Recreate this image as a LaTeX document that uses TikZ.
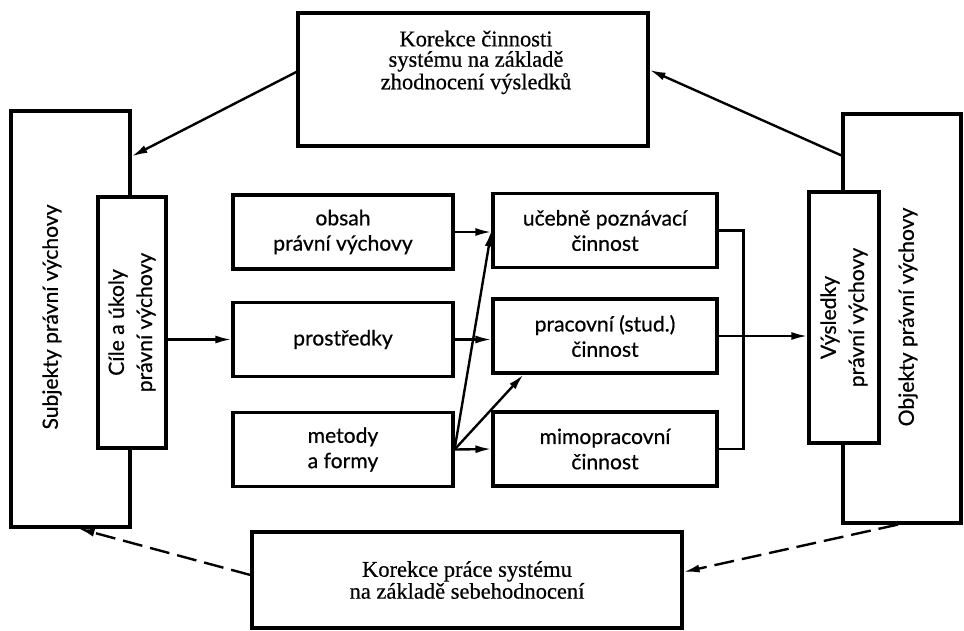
\documentclass[tikz,border=0pt]{standalone}
\usepackage{fontspec}
\setmainfont{Liberation Serif}[FakeBold=0.5]
\newfontfamily\gillfont{Lato}[FakeBold=0.6]
\usetikzlibrary{arrows.meta, positioning}
\def\midw{5.5cm}

\begin{document}
\begin{tikzpicture}[->, >={Latex[length=4mm,width=2mm]}, line width=1.7pt]
    \tikzstyle{box}=[draw, rectangle, line width=2.2pt, fill=white, inner sep=0pt]
    \tikzstyle{serif text}=[align=center, font=\fontsize{16pt}{14.5pt}\selectfont]
    \tikzstyle{sans text}=[align=center, font=\gillfont\fontsize{15pt}{18pt}\selectfont]
    \tikzstyle{mid box}=[box, sans text, minimum width=\midw, minimum height=1.85cm]
    \tikzstyle{vtext}=[sans text, rotate=90]
    \tikzstyle{back}=[dash pattern=on 5mm off 2mm]

    \useasboundingbox (0,0) rectangle (24.1,-15.75);

    % Draw the outer boxes
    \node[box, minimum width=2.975cm, minimum height=10.4cm] (subj) at (1.7625,-7.975) {};
    \node[vtext] (subj-t) at (1.3,-7.925) {Subjekty právní výchovy};
    \node[box, minimum width=2.95cm, minimum height=10.225cm] (obj) at (22.55,-7.9625) {};
    \node[vtext] (obj-t) at (22.7,-7.925) {Objekty právní výchovy};
    \node[box, minimum width=1.7cm, minimum height=6.275cm,
          label={[vtext, font=\gillfont\fontsize{15pt}{20pt}\selectfont]center:Cíle a úkoly\\právní výchovy}] (cile) at (3.3,-8.0625) {};
    \node[box, minimum width=1.75cm, minimum height=6.275cm,
          label={[vtext, font=\gillfont\fontsize{15pt}{20pt}\selectfont]center:Výsledky\\právní výchovy}] (vysl) at (21.1,-7.9375) {};

    % Draw the correction boxes
    \node[box, minimum width=8.75cm, minimum height=3.325cm] (kor-top) at (11.825,-1.9875) {};
    \node[serif text] (kor-top-t) at (11.9,-1.56) {Korekce činnosti\\systému na základě\\zhodnocení výsledků};
    \node[box, serif text, minimum width=10.75cm, minimum height=2.4cm] (kor-bot) at (11.675,-14.5)
        {Korekce práce systému\\na základě sebehodnocení};

    % Draw the middle columns
    \node[mid box] (obsah) at (8.575,-5.8) {obsah\\právní výchovy};
    \node[mid box] (prostr) at (8.575,-8.4875) {prostředky};
    \node[mid box] (metody) at (8.575,-11.2375) {metody\\a formy};
    \foreach \name/\y/\txt in {ucebne/-5.7625/{učebně poznávací\\činnost},
                               pracovni/-8.4/{pracovní (stud.)\\činnost},
                               mimo/-11.225/{mimopracovní\\činnost}}
        \node[mid box, minimum width=5.6cm] (\name) at (15.125,\y) {\txt};

    % Connect the middle
    \draw (cile.east |- prostr.west) -- (prostr.west);
    \draw (obsah.east) -- (obsah.east -| ucebne.west);
    \draw (prostr.east) -- (prostr.east -| pracovni.west);
    \draw (metody.east) -- (ucebne.west);
    \draw (metody.east) -- ([xshift=0.8cm]pracovni.south west);
    \draw (metody.east) -- (mimo.west);
    \draw[-] (ucebne.east) -- ++(0.625,0) |- (mimo.east);
    \draw (pracovni.east) -- (pracovni.east -| vysl.west);

    % Feedback loops
    \draw ([yshift=0.19cm]kor-top.west) -- ([yshift=-1.175cm]subj.north east);
    \draw ([yshift=-1.075cm]obj.north west) -- ([yshift=0.24cm]kor-top.east);
    \draw[back] ([yshift=0.125cm]kor-bot.west) -- ([xshift=-1.325cm]subj.south east);
    \draw[back] ([xshift=-0.1cm]obj.south) -- ([yshift=0.2cm]kor-bot.east);
\end{tikzpicture}
\end{document}
